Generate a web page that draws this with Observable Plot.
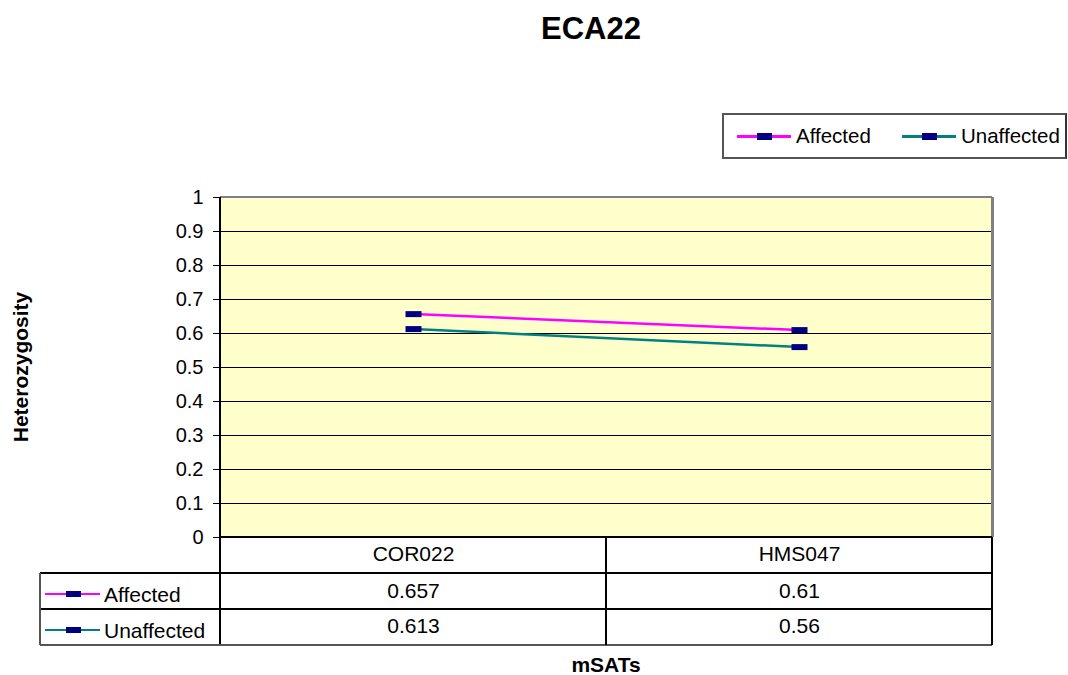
<!DOCTYPE html>
<html>
<head>
<meta charset="utf-8">
<script src="https://cdn.jsdelivr.net/npm/d3@7"></script>
<script src="https://cdn.jsdelivr.net/npm/@observablehq/plot@0.6"></script>
<style>
  body { margin: 0; background: white; font-family: "Liberation Sans", Arial, sans-serif; }
  #wrap { position: relative; width: 1068px; height: 675px; overflow: hidden; }
  #chart { position: absolute; left: 0; top: 0; }
  #legend { position: absolute; left: 722px; top: 113px; width: 341px; height: 42px; border: 2px solid #555; border-right-color: #333; box-sizing: content-box; background: white; font-size: 20.5px; }
  .item { position: absolute; top: 0; height: 42px; display: flex; align-items: center; }
  .sw { position: relative; width: 54px; height: 3px; margin-right: 5px; }
  .sw i { position: absolute; left: 20px; top: -2px; width: 15px; height: 7px; background: #000080; }
</style>
</head>
<body>
<div id="wrap">
  <div id="chart"></div>
  <div id="legend"></div>
</div>
<script>
const chartTitle = "ECA22";
const xTitle = "mSATs";
const yTitle = "Heterozygosity";
const categories = ["COR022", "HMS047"];
const seriesNames = ["Affected", "Unaffected"];
const seriesColors = ["#FF00FF", "#008080"];
const affected = [0.657, 0.61];
const unaffected = [0.613, 0.56];
const yTicks = [0, 0.1, 0.2, 0.3, 0.4, 0.5, 0.6, 0.7, 0.8, 0.9, 1];

const seriesValues = [affected, unaffected];
const data = [];
seriesNames.forEach((s, i) => categories.forEach((c, j) => data.push({series: s, cat: c, value: seriesValues[i][j], row: i})));

const rectSymbol = { draw(ctx) { ctx.moveTo(-8, -3); ctx.lineTo(8, -3); ctx.lineTo(8, 3); ctx.lineTo(-8, 3); ctx.closePath(); } };

const rowDy = [54, 89];

const chart = Plot.plot({
  width: 1068,
  height: 675,
  marginLeft: 220,
  marginRight: 76,
  marginTop: 197,
  marginBottom: 138,
  style: { fontFamily: "'Liberation Sans', Arial, sans-serif", fontSize: "20px", background: "white", color: "black" },
  x: { type: "point", domain: categories, padding: 0.5, axis: null },
  y: { domain: [0, 1], axis: null },
  color: { domain: seriesNames, range: seriesColors },
  marks: [
    Plot.frame({ fill: "#FFFFCC", stroke: "none" }),
    Plot.ruleY(yTicks.slice(1, -1), { stroke: "black", strokeWidth: 1 }),
    Plot.axisY({ ticks: yTicks, tickSize: 7, tickPadding: 10, tickFormat: d => String(+d.toFixed(1)), label: null, fontSize: 20 }),
    Plot.line(data, { x: "cat", y: "value", z: "series", stroke: "series", strokeWidth: 2.5 }),
    Plot.dot(data, { x: "cat", y: "value", symbol: rectSymbol, fill: "#000080", stroke: "none" }),
    Plot.text(categories, { x: d => d, text: d => d, frameAnchor: "bottom", lineAnchor: "middle", dy: 17, fontSize: 21 }),
    ...seriesNames.map((s, i) => Plot.text(data.filter(d => d.row === i), { x: "cat", text: d => String(d.value), frameAnchor: "bottom", lineAnchor: "middle", dy: rowDy[i], fontSize: 21 }))
  ]
});
document.getElementById("chart").appendChild(chart);

// frame borders and data table grid, positioned from the plot's scales
const xs = chart.scale("x"), ys = chart.scale("y");
const [x0, x1] = xs.range;
const [yb, yt] = ys.range;
const step = (x1 - x0) / categories.length;
const svg = d3.select(chart);
const g = svg.append("g").attr("shape-rendering", "crispEdges");
const line = (a, b, c, d, col, w) => g.append("line").attr("x1", a).attr("y1", b).attr("x2", c).attr("y2", d).attr("stroke", col).attr("stroke-width", w || 1);
line(x0, yt, x1, yt, "#808080", 2);
line(x1, yt, x1, yb, "#808080", 3);
line(x0, yt, x0, yb + 108, "black", 1.5);
line(x0, yb, x1, yb, "black", 1.5);
const rowH = 36;
const tableLeft = 40;
for (let k = 1; k <= 3; k++) line(tableLeft, yb + rowH * k, x1, yb + rowH * k, k === 3 ? "#555" : "black", 1.5);
line(tableLeft, yb + rowH, tableLeft, yb + rowH * 3, "#555", 1.5);
for (let k = 1; k <= categories.length; k++) line(x0 + step * k, yb, x0 + step * k, yb + rowH * 3, "black", 1.5);

// row legend keys in the table
seriesNames.forEach((s, i) => {
  const cy = yb + rowH * (i + 1) + rowH / 2 + 3;
  g.append("line").attr("x1", 45).attr("x2", 100).attr("y1", cy).attr("y2", cy).attr("stroke", seriesColors[i]).attr("stroke-width", 2.5);
  g.append("rect").attr("x", 66).attr("y", cy - 3).attr("width", 15).attr("height", 6).attr("fill", "#000080");
  svg.append("text").attr("x", 104).attr("y", cy).attr("dy", "0.36em").attr("text-anchor", "start").attr("font-size", 21).attr("fill", "black").text(s);
});

// titles
svg.append("text").attr("x", 591).attr("y", 39).attr("text-anchor", "middle").attr("font-weight", "bold").attr("font-size", 31).attr("fill", "black").text(chartTitle);
svg.append("text").attr("x", 606).attr("y", 672).attr("text-anchor", "middle").attr("font-weight", "bold").attr("font-size", 21).attr("fill", "black").text(xTitle);
svg.append("text").attr("transform", `translate(28,${(yb + yt) / 2}) rotate(-90)`).attr("text-anchor", "middle").attr("font-weight", "bold").attr("font-size", 21).attr("fill", "black").text(yTitle);

const lg = document.getElementById("legend");
const legendLeft = [13, 178];
seriesNames.forEach((s, i) => {
  const it = document.createElement("div");
  it.className = "item";
  it.style.left = legendLeft[i] + "px";
  it.innerHTML = `<div class="sw" style="background:${seriesColors[i]}"><i></i></div><span>${s}</span>`;
  lg.appendChild(it);
});
</script>
</body>
</html>
